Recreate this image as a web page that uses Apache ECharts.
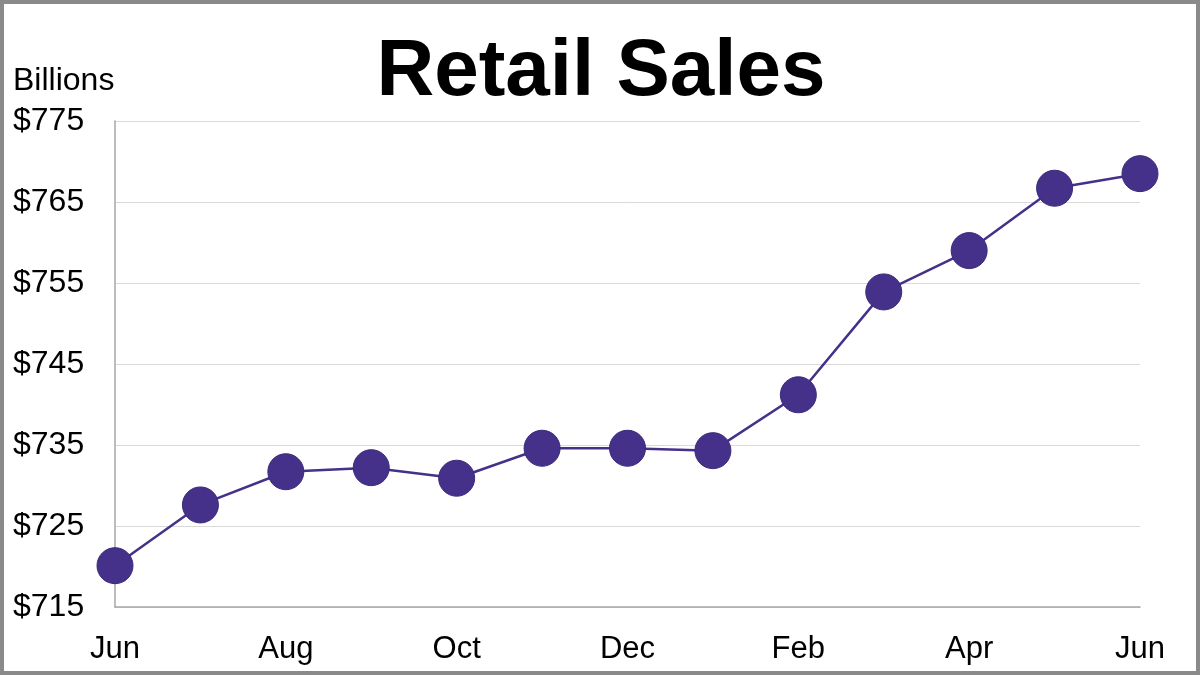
<!DOCTYPE html>
<html>
<head>
<meta charset="utf-8">
<script src="https://cdn.jsdelivr.net/npm/echarts@6/dist/echarts.min.js"></script>
<style>
html,body{margin:0;padding:0;background:#fff;}
#chart{width:1200px;height:675px;}
</style>
</head>
<body>
<div id="chart"></div>
<script>
var categories = ['Jun','Jul','Aug','Sep','Oct','Nov','Dec','Jan','Feb','Mar','Apr','May','Jun'];
var salesValues = [720.1, 727.6, 731.7, 732.2, 730.9, 734.6, 734.6, 734.3, 741.2, 753.9, 759.0, 766.7, 768.5];
var yTicks = [715, 725, 735, 745, 755, 765, 775];

var chart = echarts.init(document.getElementById('chart'));
var font = '"Liberation Sans", Arial, sans-serif';
chart.setOption({
  animation: false,
  backgroundColor: '#ffffff',
  graphic: [
    {type:'rect', silent:true, z:100, shape:{x:2, y:2, width:1196, height:671},
     style:{fill:'none', stroke:'#8a8a8a', lineWidth:4}},
    {type:'text', x:601, y:73, z:10,
     style:{text:'Retail Sales', fontFamily:font, fontSize:80, fontWeight:'bold', fill:'#000',
            textAlign:'center', textVerticalAlign:'middle'}},
    {type:'text', x:13, y:81, z:10,
     style:{text:'Billions', fontFamily:font, fontSize:32, fill:'#000',
            textAlign:'left', textVerticalAlign:'middle'}}
  ],
  grid: {left:115, right:60, top:121, bottom:68, containLabel:false},
  xAxis: {
    type:'category',
    data: categories,
    boundaryGap:false,
    axisLine:{show:true, lineStyle:{color:'#a6a6a6', width:1.5}},
    axisTick:{show:false},
    axisLabel:{interval:1, fontFamily:font, fontSize:31, color:'#000', margin:27}
  },
  yAxis: {
    type:'value',
    min: yTicks[0], max: yTicks[yTicks.length-1], interval:10,
    axisLine:{show:true, lineStyle:{color:'#a6a6a6', width:1.5}},
    axisTick:{show:false},
    splitLine:{show:true, lineStyle:{color:'#d9d9d9', width:1}},
    axisLabel:{fontFamily:font, fontSize:32, color:'#000', align:'left', margin:102,
      formatter:function(v){return '$'+v;}}
  },
  series: [{
    type:'line',
    data: salesValues,
    symbol:'circle',
    symbolSize:36,
    lineStyle:{color:'#45318a', width:2.5},
    itemStyle:{color:'#45318a', borderColor:'#3a2a7a', borderWidth:1},
    z:5
  }]
});
</script>
</body>
</html>
